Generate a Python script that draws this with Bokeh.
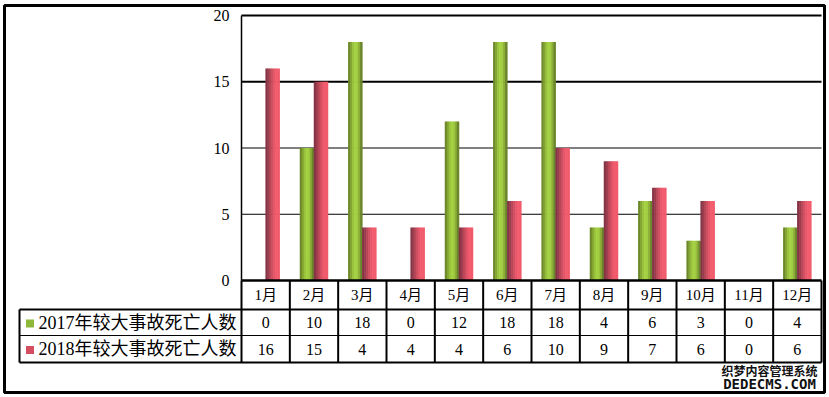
from bokeh.plotting import figure
from bokeh.models import Range1d
from bokeh.core.properties import value
from bokeh.embed import file_html
from bokeh.resources import INLINE

# ---------------- data ----------------
months = ["1月", "2月", "3月", "4月", "5月", "6月", "7月", "8月", "9月", "10月", "11月", "12月"]
deaths_2017 = [0, 10, 18, 0, 12, 18, 18, 4, 6, 3, 0, 4]
deaths_2018 = [16, 15, 4, 4, 4, 6, 10, 9, 7, 6, 0, 6]
series_names = ["2017年较大事故死亡人数", "2018年较大事故死亡人数"]
y_ticks = [0, 5, 10, 15, 20]
watermark = ["织梦内容管理系统", "DEDECMS.COM"]

# ---------------- layout (pixel frame) ----------------
W, H = 829, 397
BOX_L, BOX_R, BOX_T, BOX_B = 4, 824, 5, 392
PLOT_L, PLOT_R, PLOT_T, PLOT_B = 241, 821, 15, 280
ROW_Y = [280, 309, 335, 362]
LEG_L = 19
VMAX = 20
n = len(months)
colw = (PLOT_R - PLOT_L) / n
k = VMAX / (PLOT_B - PLOT_T)

p = figure(width=W, height=H, output_backend="svg", toolbar_location=None,
           x_axis_location=None, y_axis_location=None,
           x_range=Range1d(0, W), y_range=Range1d(H, 0),
           min_border_left=0, min_border_right=0, min_border_top=0, min_border_bottom=0)
p.extra_x_ranges = {"m": Range1d((0 - PLOT_L) / colw, (W - PLOT_L) / colw)}
p.extra_y_ranges = {"v": Range1d((PLOT_B - H) * k, (PLOT_B - 0) * k)}
p.grid.visible = False
p.outline_line_color = None
p.background_fill_color = "white"
p.border_fill_color = "white"

NUM_FONT = value("Liberation Serif, Noto Sans CJK SC")

# outer border
p.quad(left=[BOX_L], right=[BOX_R], top=[BOX_T], bottom=[BOX_B],
       fill_color=None, line_color="black", line_width=3)

# gridlines
grid_ticks = y_ticks[1:]
p.segment(x0=[0] * len(grid_ticks), x1=[n] * len(grid_ticks), y0=grid_ticks, y1=grid_ticks,
          line_color="black", line_width=[1, 1, 2, 2],
          x_range_name="m", y_range_name="v")

# bars with cylinder-like shading
green_shades = ["#6c882a", "#84a532", "#98c23b", "#a5d243", "#a0cc40", "#8cae36", "#6a862a"]
red_shades = ["#843444", "#9c3d4e", "#b84657", "#d24f61", "#e85769", "#f25c6d", "#f05a6b"]
bar_w = 14 / colw
ns = len(green_shades)
sw = bar_w / ns
xc = [i + 0.5 for i in range(n)]
for vals, shades, side in ((deaths_2017, green_shades, -1), (deaths_2018, red_shades, 1)):
    for j, c in enumerate(shades):
        off = side * bar_w / 2 - bar_w / 2 + sw * (j + 0.5)
        p.vbar(x=[x + off for x in xc], top=vals, bottom=0, width=sw * 1.25,
               fill_color=c, line_color=None, x_range_name="m", y_range_name="v")

# plot-area left axis line
p.segment(x0=[0], x1=[0], y0=[0], y1=[VMAX], line_color="black", line_width=1.5,
          x_range_name="m", y_range_name="v")

# y tick labels
p.text(x=[229] * len(y_ticks), y=y_ticks, text=[str(t) for t in y_ticks],
       text_font=NUM_FONT, text_font_size="16px", text_align="right",
       text_baseline="middle", text_color="black", y_range_name="v")

# table: vertical lines at month boundaries
bounds = list(range(n + 1))
p.segment(x0=bounds, x1=bounds, y0=[ROW_Y[0]] * len(bounds), y1=[ROW_Y[-1]] * len(bounds),
          line_color="black", line_width=2, x_range_name="m")
# header top line (x axis)
p.segment(x0=[0], x1=[n], y0=[ROW_Y[0]], y1=[ROW_Y[0]], line_color="black", line_width=2.5,
          x_range_name="m")
# row lines spanning legend column
p.segment(x0=[LEG_L] * 3, x1=[PLOT_R] * 3, y0=ROW_Y[1:], y1=ROW_Y[1:],
          line_color="black", line_width=[2, 1, 2])
p.segment(x0=[LEG_L], x1=[LEG_L], y0=[ROW_Y[1]], y1=[ROW_Y[-1]], line_color="black", line_width=2)

# month labels
hdr_y = (ROW_Y[0] + ROW_Y[1]) / 2
p.text(x=xc, y=[hdr_y] * n, text=months, text_font=NUM_FONT, text_font_size="15px",
       text_align="center", text_baseline="middle", text_color="black", x_range_name="m")

# values rows
for r, vals in enumerate((deaths_2017, deaths_2018)):
    ry = (ROW_Y[r + 1] + ROW_Y[r + 2]) / 2
    p.text(x=xc, y=[ry] * n, text=[str(v) for v in vals], text_font=NUM_FONT,
           text_font_size="16px", text_align="center", text_baseline="middle",
           text_color="black", x_range_name="m")

# legend keys and names
row_centers = [(ROW_Y[1] + ROW_Y[2]) / 2, (ROW_Y[2] + ROW_Y[3]) / 2]
p.rect(x=[29.5, 29.5], y=[rc + 1 for rc in row_centers], width=8, height=8,
       width_units="screen", height_units="screen",
       fill_color=["#8db83a", "#d44e60"], line_color=None)
p.text(x=[38, 38], y=row_centers, text=series_names, text_font=NUM_FONT,
       text_font_size="18px", text_align="left", text_baseline="middle", text_color="black")

# watermark
p.text(x=[769], y=[370], text=[watermark[0]], text_font=value("Noto Sans CJK SC"),
       text_font_size="12px", text_font_style="bold", text_align="center",
       text_baseline="middle", text_color="#111111")
p.text(x=[769], y=[383.5], text=[watermark[1]], text_font=value("DejaVu Sans Mono"),
       text_font_size="14px", text_font_style="bold", text_align="center",
       text_baseline="middle", text_color="#111111")

open("out.html", "w").write(file_html(p, INLINE))
